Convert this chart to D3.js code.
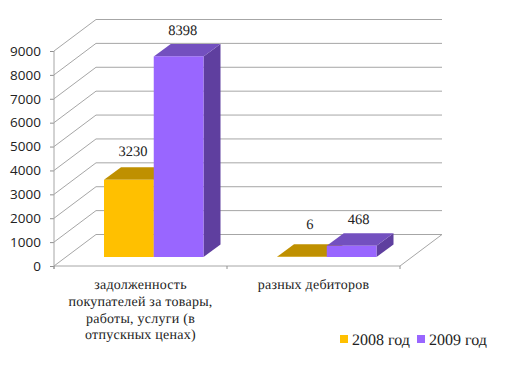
<!DOCTYPE html>
<html>
<head>
<meta charset="utf-8">
<script src="https://cdn.jsdelivr.net/npm/d3@7"></script>
<style>
  body { margin: 0; background: #fff; }
  svg { display: block; }
  .axis path { display: none; }
  .axis line { stroke: #909090; }
  .axis text { font-family: "Open Sans", sans-serif; font-size: 13.5px; fill: #222; }
  .cat, .val, .leg { font-family: "Liberation Serif", serif; fill: #222; text-rendering: geometricPrecision; }
  .cat { font-size: 14px; letter-spacing: 0.25px; }
  .val { font-size: 14.5px; }
  .leg { font-size: 16px; }
</style>
</head>
<body>
<div id="chart"></div>
<script>
  // data
  const categories = ["a", "b"];
  const categoryLines = [
    ["задолженность", "покупателей за товары,", "работы, услуги  (в", "отпускных  ценах)"],
    ["разных дебиторов"]
  ];
  const seriesNames = ["2008 год", "2009 год"];
  const values2008 = [3230, 6];
  const values2009 = [8398, 468];
  const yTicks = [0, 1000, 2000, 3000, 4000, 5000, 6000, 7000, 8000, 9000];

  const width = 516, height = 365;

  // depth of the 3d box and of a bar
  const wallDx = 42, wallDy = -31.5;
  const barDx = 17, barDy = -12.5;
  const barShiftY = -9; // bars stand a little behind the front edge

  const svg = d3.select("#chart").append("svg")
    .attr("width", width)
    .attr("height", height);

  const xScale = d3.scaleBand().domain(categories).range([54, 400]);
  const yScale = d3.scaleLinear().domain([0, 9000]).range([266, 51]);
  const seriesScale = d3.scaleBand().domain(seriesNames).range([50, 149.5]);

  const colors = {
    "2008 год": { front: "#FFC000", top: "#BF9000", side: "#BF9000" },
    "2009 год": { front: "#9966FF", top: "#7350BF", side: "#5F3F9F" }
  };

  // walls and gridlines
  const grid = svg.append("g")
    .attr("fill", "none")
    .attr("stroke", "#a6a6a6")
    .attr("stroke-width", 1);

  grid.selectAll("path")
    .data(yTicks)
    .join("path")
    .attr("d", d => {
      const y = yScale(d);
      return d3.line()([[54, y], [54 + wallDx, y + wallDy], [400 + wallDx, y + wallDy]]);
    });

  // floor front and right edge
  grid.append("path")
    .attr("d", d3.line()([[54, yScale(0)], [400, yScale(0)], [400 + wallDx, yScale(0) + wallDy]]));

  // y axis
  svg.append("g")
    .attr("class", "axis")
    .attr("transform", "translate(54,0)")
    .call(d3.axisLeft(yScale).tickValues(yTicks).tickFormat(d3.format("d")).tickSize(4).tickPadding(9));

  svg.append("line")
    .attr("x1", 54).attr("x2", 54)
    .attr("y1", yScale(9000)).attr("y2", yScale(0) + 3)
    .attr("stroke", "#a6a6a6");

  // category ticks
  svg.selectAll(".cat-tick")
    .data([54, 227, 400])
    .join("line")
    .attr("class", "cat-tick")
    .attr("x1", d => d).attr("x2", d => d)
    .attr("y1", yScale(0)).attr("y2", yScale(0) + 3)
    .attr("stroke", "#909090");

  // bars
  const series = [
    { name: seriesNames[0], values: values2008 },
    { name: seriesNames[1], values: values2009 }
  ];
  const nudges = [[[-2, -2], [2, -6]], [[-2, 0], [1, 0]]];

  series.forEach((s, si) => {
    const g = svg.append("g");
    const c = colors[s.name];
    s.values.forEach((v, i) => {
      const x0 = xScale(categories[i]) + seriesScale(s.name);
      const x1 = x0 + seriesScale.bandwidth();
      const yb = yScale(0) + barShiftY;
      const yt = yScale(v) + barShiftY;

      g.append("path").attr("fill", c.side)
        .attr("d", d3.line()([[x1, yt], [x1 + barDx, yt + barDy], [x1 + barDx, yb + barDy], [x1, yb]]) + "Z");
      g.append("path").attr("fill", c.top)
        .attr("d", d3.line()([[x0, yt], [x0 + barDx, yt + barDy], [x1 + barDx, yt + barDy], [x1, yt]]) + "Z");
      g.append("rect").attr("fill", c.front)
        .attr("x", x0).attr("y", yt)
        .attr("width", x1 - x0).attr("height", yb - yt);
    });
  });

  // value labels go on top of all bars
  series.forEach((s, si) => {
    s.values.forEach((v, i) => {
      const cx = xScale(categories[i]) + seriesScale(s.name) + seriesScale.bandwidth() / 2;
      svg.append("text")
        .attr("class", "val")
        .attr("text-anchor", "middle")
        .attr("x", cx + 6 + nudges[si][i][0])
        .attr("y", yScale(v) + barShiftY + barDy - 9 + nudges[si][i][1])
        .text(d3.format("d")(v));
    });
  });

  // category labels
  categories.forEach((c, i) => {
    svg.append("text")
      .attr("class", "cat")
      .attr("text-anchor", "middle")
      .attr("y", 289)
      .selectAll("tspan")
      .data(categoryLines[i])
      .join("tspan")
      .attr("x", xScale(c) + xScale.bandwidth() / 2)
      .attr("dy", (d, j) => j ? 16.8 : 0)
      .text(d => d);
  });

  // legend
  const legendX = [340, 417];
  const legend = svg.selectAll(".leg-item")
    .data(seriesNames)
    .join("g")
    .attr("class", "leg-item")
    .attr("transform", (d, i) => "translate(" + legendX[i] + ",335)");

  legend.append("rect")
    .attr("width", 8).attr("height", 8)
    .attr("fill", d => colors[d].front);

  legend.append("text")
    .attr("class", "leg")
    .attr("x", 12)
    .attr("y", 10)
    .text(d => d);
</script>
</body>
</html>
